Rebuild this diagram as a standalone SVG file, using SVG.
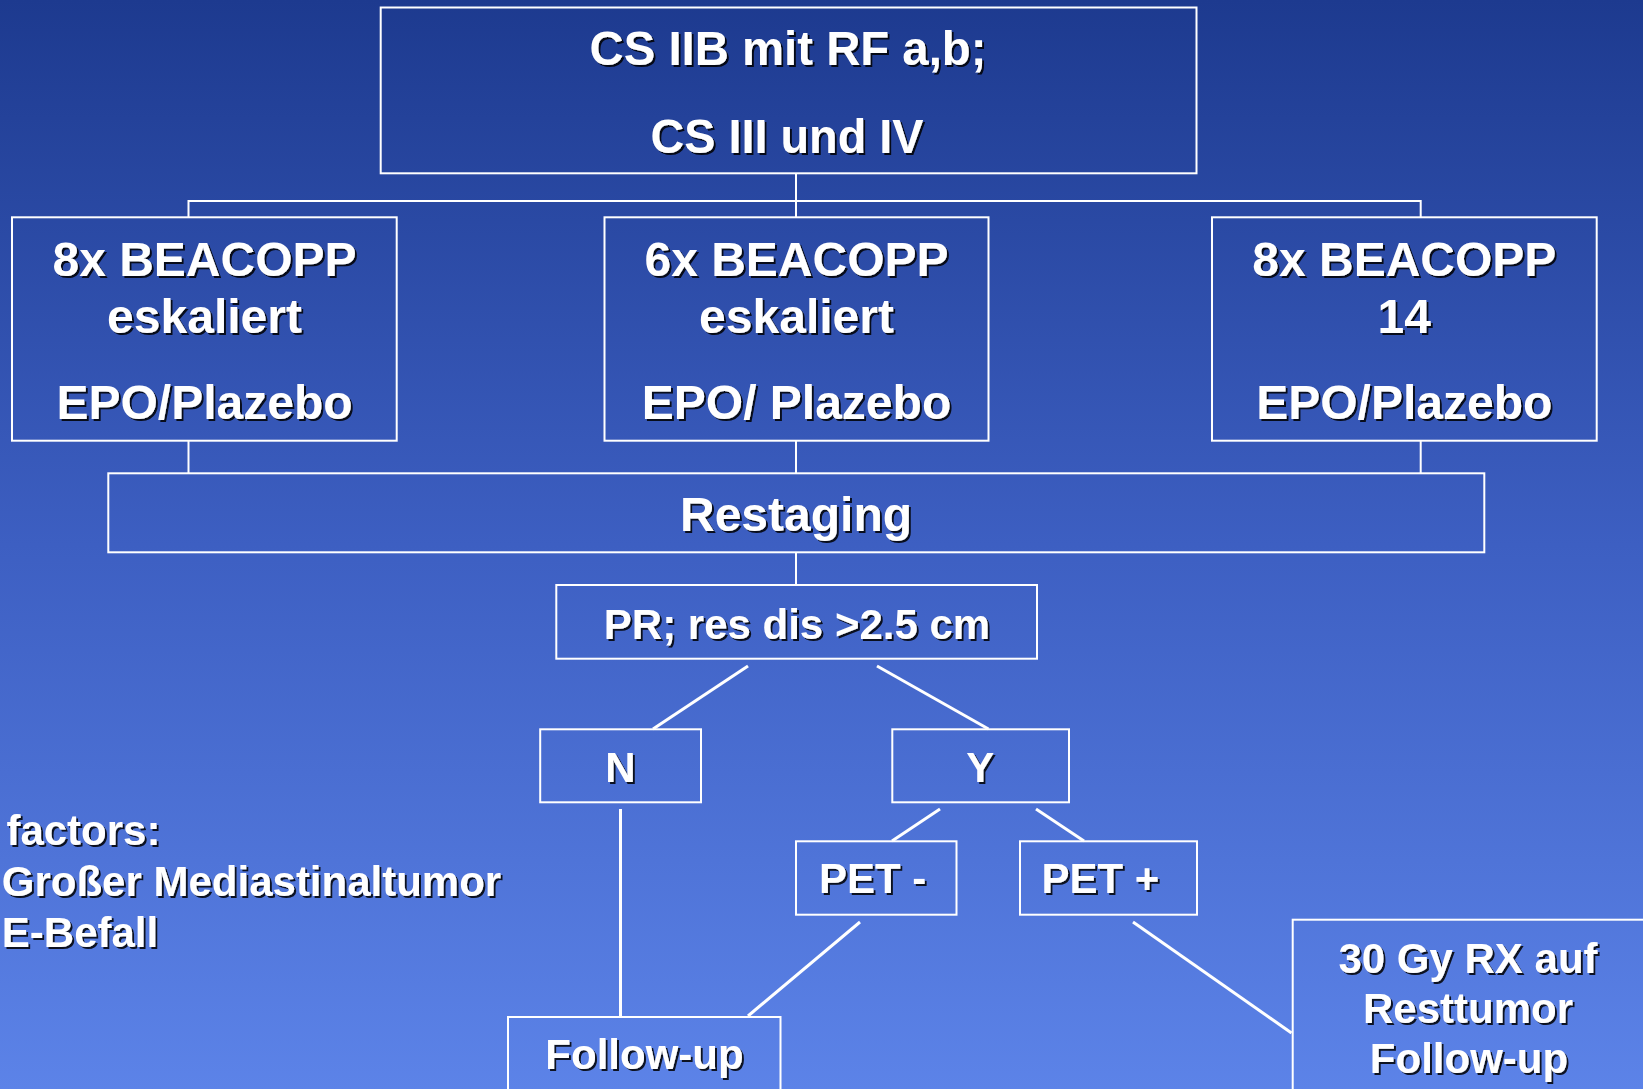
<svg xmlns="http://www.w3.org/2000/svg" width="1643" height="1089" viewBox="0 0 1643 1089">
<defs>
<linearGradient id="bg" x1="0" y1="0" x2="0" y2="1">
<stop offset="0" stop-color="#1d3a8f"/>
<stop offset="0.5" stop-color="#3d5fc2"/>
<stop offset="1" stop-color="#5c83e8"/>
</linearGradient>
<filter id="sh" x="-10%" y="-20%" width="120%" height="150%">
<feDropShadow dx="2" dy="2" stdDeviation="0.6" flood-color="#000" flood-opacity="0.85"/>
</filter>
</defs>
<style>
.box{fill:none;stroke:#fff;stroke-width:2}
.ln{stroke:#fff;stroke-width:2;fill:none}
.dl{stroke:#fff;stroke-width:3;fill:none}
text{font-family:"Liberation Sans",Arial,sans-serif;font-weight:bold;fill:#fff;filter:url(#sh)}
.c{text-anchor:middle}
.f49{font-size:49px}
.f48{font-size:48px}
.f42{font-size:42px}
</style>
<rect x="0" y="0" width="1643" height="1089" fill="url(#bg)"/>
<g id="connectors">
<line class="ln" x1="796" y1="173" x2="796" y2="201"/>
<polyline class="ln" points="188.5,217 188.5,201 1420.7,201 1420.7,217"/>
<line class="ln" x1="796" y1="201" x2="796" y2="217"/>
<line class="ln" x1="188.5" y1="441" x2="188.5" y2="473"/>
<line class="ln" x1="796" y1="441" x2="796" y2="473"/>
<line class="ln" x1="1420.7" y1="441" x2="1420.7" y2="473"/>
<line class="ln" x1="796" y1="552" x2="796" y2="585"/>
<line class="dl" x1="748" y1="666" x2="653" y2="729"/>
<line class="dl" x1="877" y1="666" x2="988.5" y2="729"/>
<line class="dl" x1="620.5" y1="809" x2="620.5" y2="1016"/>
<line class="dl" x1="940" y1="809" x2="892" y2="841"/>
<line class="dl" x1="1036" y1="809" x2="1084" y2="841"/>
<line class="dl" x1="860" y1="922" x2="748" y2="1016"/>
<line class="dl" x1="1133" y1="922" x2="1291.5" y2="1033"/>
</g>
<g id="n-top">
<rect class="box" x="380.7" y="7.5" width="815.8" height="165.8"/>
<text class="c f49" x="788" y="65" textLength="397" lengthAdjust="spacingAndGlyphs">CS IIB mit RF a,b;</text>
<text class="c f49" x="787" y="153.3" textLength="273" lengthAdjust="spacingAndGlyphs">CS III und IV</text>
</g>
<g id="n-left">
<rect class="box" x="12" y="217.3" width="384.7" height="223.4"/>
<text class="c f48" x="204.5" y="276">8x BEACOPP</text>
<text class="c f48" x="204.5" y="333.3">eskaliert</text>
<text class="c f48" x="204.5" y="419">EPO/Plazebo</text>
</g>
<g id="n-mid">
<rect class="box" x="604.5" y="217.3" width="384" height="223.4"/>
<text class="c f48" x="796.5" y="276">6x BEACOPP</text>
<text class="c f48" x="796.5" y="333.3">eskaliert</text>
<text class="c f48" x="796.5" y="419">EPO/ Plazebo</text>
</g>
<g id="n-right">
<rect class="box" x="1212" y="217.3" width="384.7" height="223.4"/>
<text class="c f48" x="1404.3" y="276">8x BEACOPP</text>
<text class="c f48" x="1404.3" y="333.3">14</text>
<text class="c f48" x="1404.3" y="419">EPO/Plazebo</text>
</g>
<g id="n-restaging">
<rect class="box" x="108.3" y="473.3" width="1376" height="79"/>
<text class="c f48" x="796" y="531">Restaging</text>
</g>
<g id="n-pr">
<rect class="box" x="556.3" y="585" width="480.7" height="73.7"/>
<text class="c f42" x="797" y="638.5">PR; res dis &gt;2.5 cm</text>
</g>
<g id="n-n">
<rect class="box" x="540.2" y="729.3" width="160.8" height="73"/>
<text class="c f42" x="620.5" y="782">N</text>
</g>
<g id="n-y">
<rect class="box" x="892.3" y="729.3" width="176.7" height="73"/>
<text class="c f42" x="980.3" y="782">Y</text>
</g>
<g id="n-petminus">
<rect class="box" x="796" y="841.3" width="160.5" height="73.4"/>
<text class="f42" x="819" y="893.3">PET -</text>
</g>
<g id="n-petplus">
<rect class="box" x="1020" y="841.3" width="177" height="73.4"/>
<text class="f42" x="1041.5" y="893.3">PET +</text>
</g>
<g id="n-followup">
<rect class="box" x="508" y="1017" width="272.5" height="90"/>
<text class="c f42" x="644.5" y="1069">Follow-up</text>
</g>
<g id="n-rx">
<rect class="box" x="1292.7" y="919.7" width="370" height="190"/>
<text class="c f42" x="1468" y="972.7">30 Gy RX auf</text>
<text class="c f42" x="1468" y="1023.3">Resttumor</text>
<text class="c f42" x="1469" y="1073">Follow-up</text>
</g>
<g id="factors">
<text class="f42" x="6.4" y="845">factors:</text>
<text class="f42" x="1.8" y="896">Großer Mediastinaltumor</text>
<text class="f42" x="1.8" y="947.3">E-Befall</text>
</g>
</svg>
